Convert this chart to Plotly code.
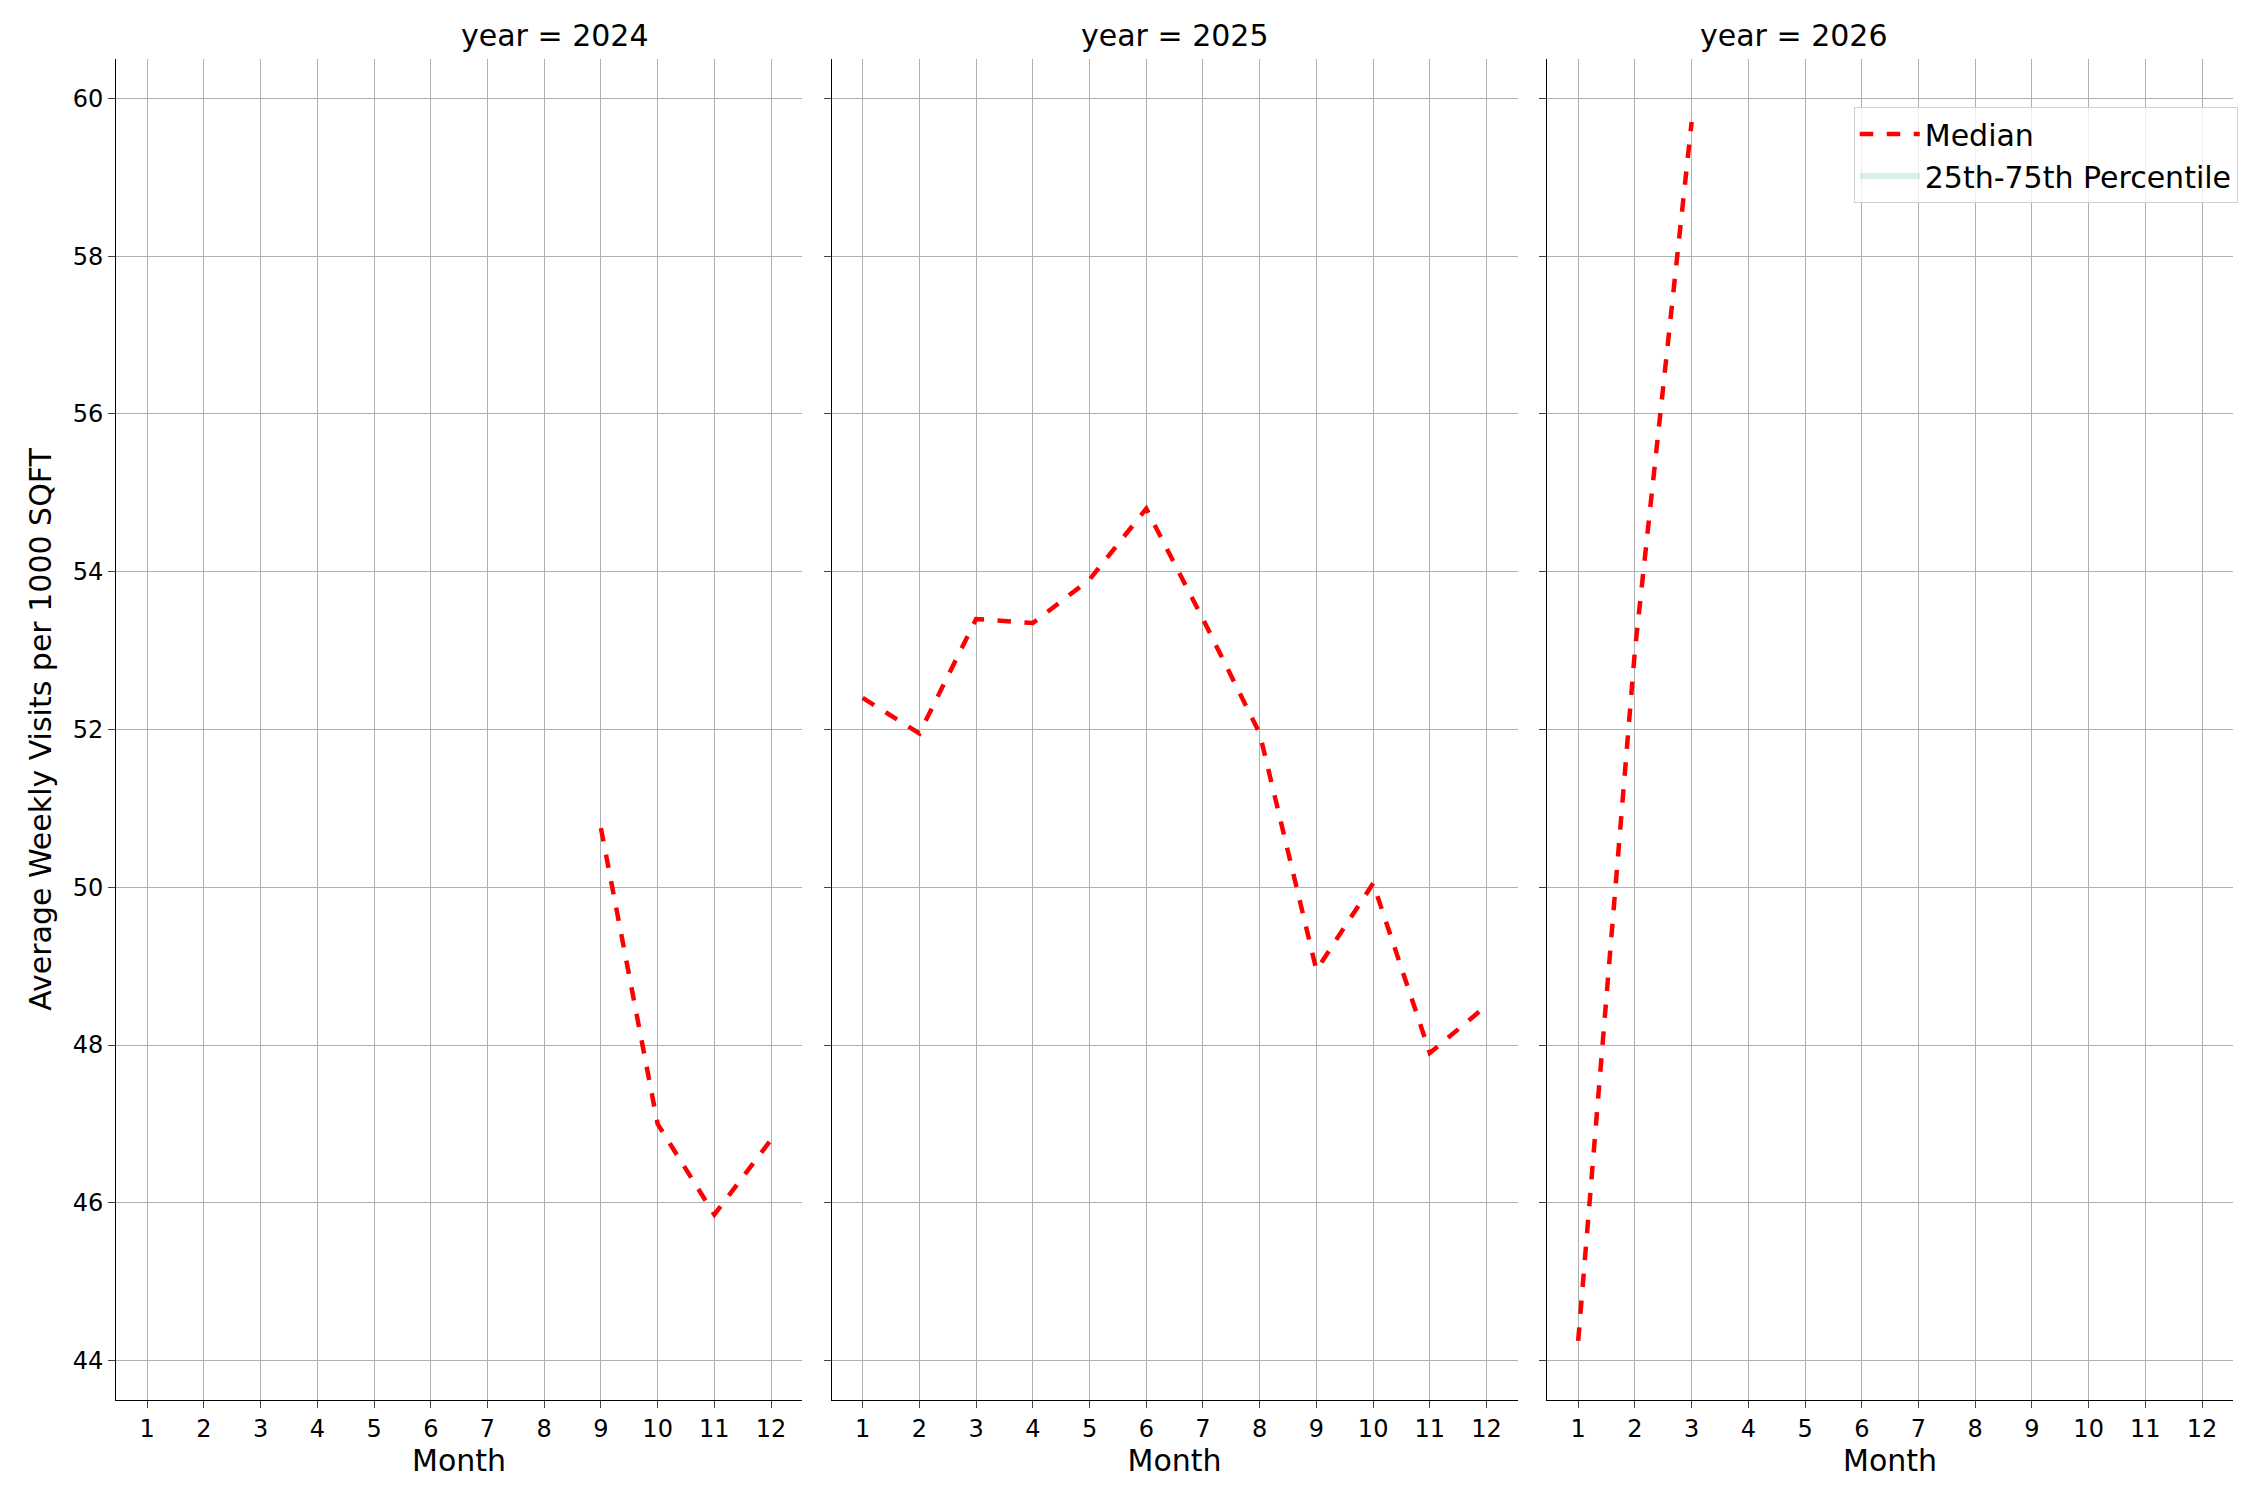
import plotly.graph_objects as go

years = [2024, 2025, 2026]
months_2024 = [9, 10, 11, 12]
median_2024 = [50.75, 47.0, 45.85, 46.8]
months_2025 = list(range(1, 13))
median_2025 = [52.4, 51.95, 53.4, 53.35, 53.9, 54.8, 53.4, 51.95, 48.95, 50.05, 47.9, 48.5]
months_2026 = [1, 2, 3]
median_2026 = [44.25, 53.0, 59.7]
month_ticks = list(range(1, 13))
y_ticks = [44, 46, 48, 50, 52, 54, 56, 58, 60]

data = [(months_2024, median_2024), (months_2025, median_2025), (months_2026, median_2026)]
domains = [(0.048, 0.353), (0.366, 0.671), (0.684, 0.989)]
ydom = (0.072, 0.966)

fig = go.Figure()
F = "DejaVu Sans"
for i, (xs, ys) in enumerate(data):
    ax = "" if i == 0 else str(i + 1)
    fig.add_trace(go.Scatter(x=xs, y=ys, mode="lines", xaxis="x" + ax, yaxis="y" + ax,
                             line=dict(color="red", dash="dash", width=4.5),
                             name="Median", showlegend=(i == 0)))
fig.add_trace(go.Scatter(x=[None], y=[None], fill="toself", mode="none",
                         fillcolor="rgba(102,194,165,0.25)", name="25th-75th Percentile"))

layout = {}
for i in range(3):
    k = "" if i == 0 else str(i + 1)
    layout["xaxis" + k] = dict(domain=domains[i], anchor="y" + k, range=[0.45, 12.55],
                               tickvals=month_ticks, showgrid=True, gridcolor="#b0b0b0",
                               showline=True, linecolor="black", ticks="outside", ticklen=7,
                               tickfont=dict(size=24, color="black"), zeroline=False,
                               title=dict(text="Month", font=dict(size=30, color="black"), standoff=6))
    layout["yaxis" + k] = dict(domain=ydom, anchor="x" + k, range=[43.5, 60.5],
                               tickvals=y_ticks, showgrid=True, gridcolor="#b0b0b0",
                               showline=True, linecolor="black", ticks="outside", ticklen=7,
                               showticklabels=(i == 0), zeroline=False,
                               tickfont=dict(size=24, color="black"))
    if i > 0:
        layout["yaxis" + k]["matches"] = "y"
layout["yaxis"]["title"] = dict(text="Average Weekly Visits per 1000 SQFT", font=dict(size=30, color="black"), standoff=12)
fig.update_layout(**layout)
for i, yr in enumerate(years):
    fig.add_annotation(text=f"year = {yr}", x=(domains[i][0] + domains[i][1]) / 2, y=ydom[1],
                       xref="paper", yref="paper", yanchor="bottom", yshift=4, showarrow=False,
                       font=dict(size=30, color="black"))
fig.update_layout(width=2250, height=1500, plot_bgcolor="white", paper_bgcolor="white",
                  margin=dict(l=0, r=0, t=0, b=0), font=dict(family=F, color="black"),
                  legend=dict(x=0.991, y=0.934, xanchor="right", yanchor="top", itemwidth=60,
                              bgcolor="rgba(255,255,255,0.8)", bordercolor="#d0d0d0", borderwidth=1,
                              font=dict(size=30, color="black")))
fig.write_html("out.html")
